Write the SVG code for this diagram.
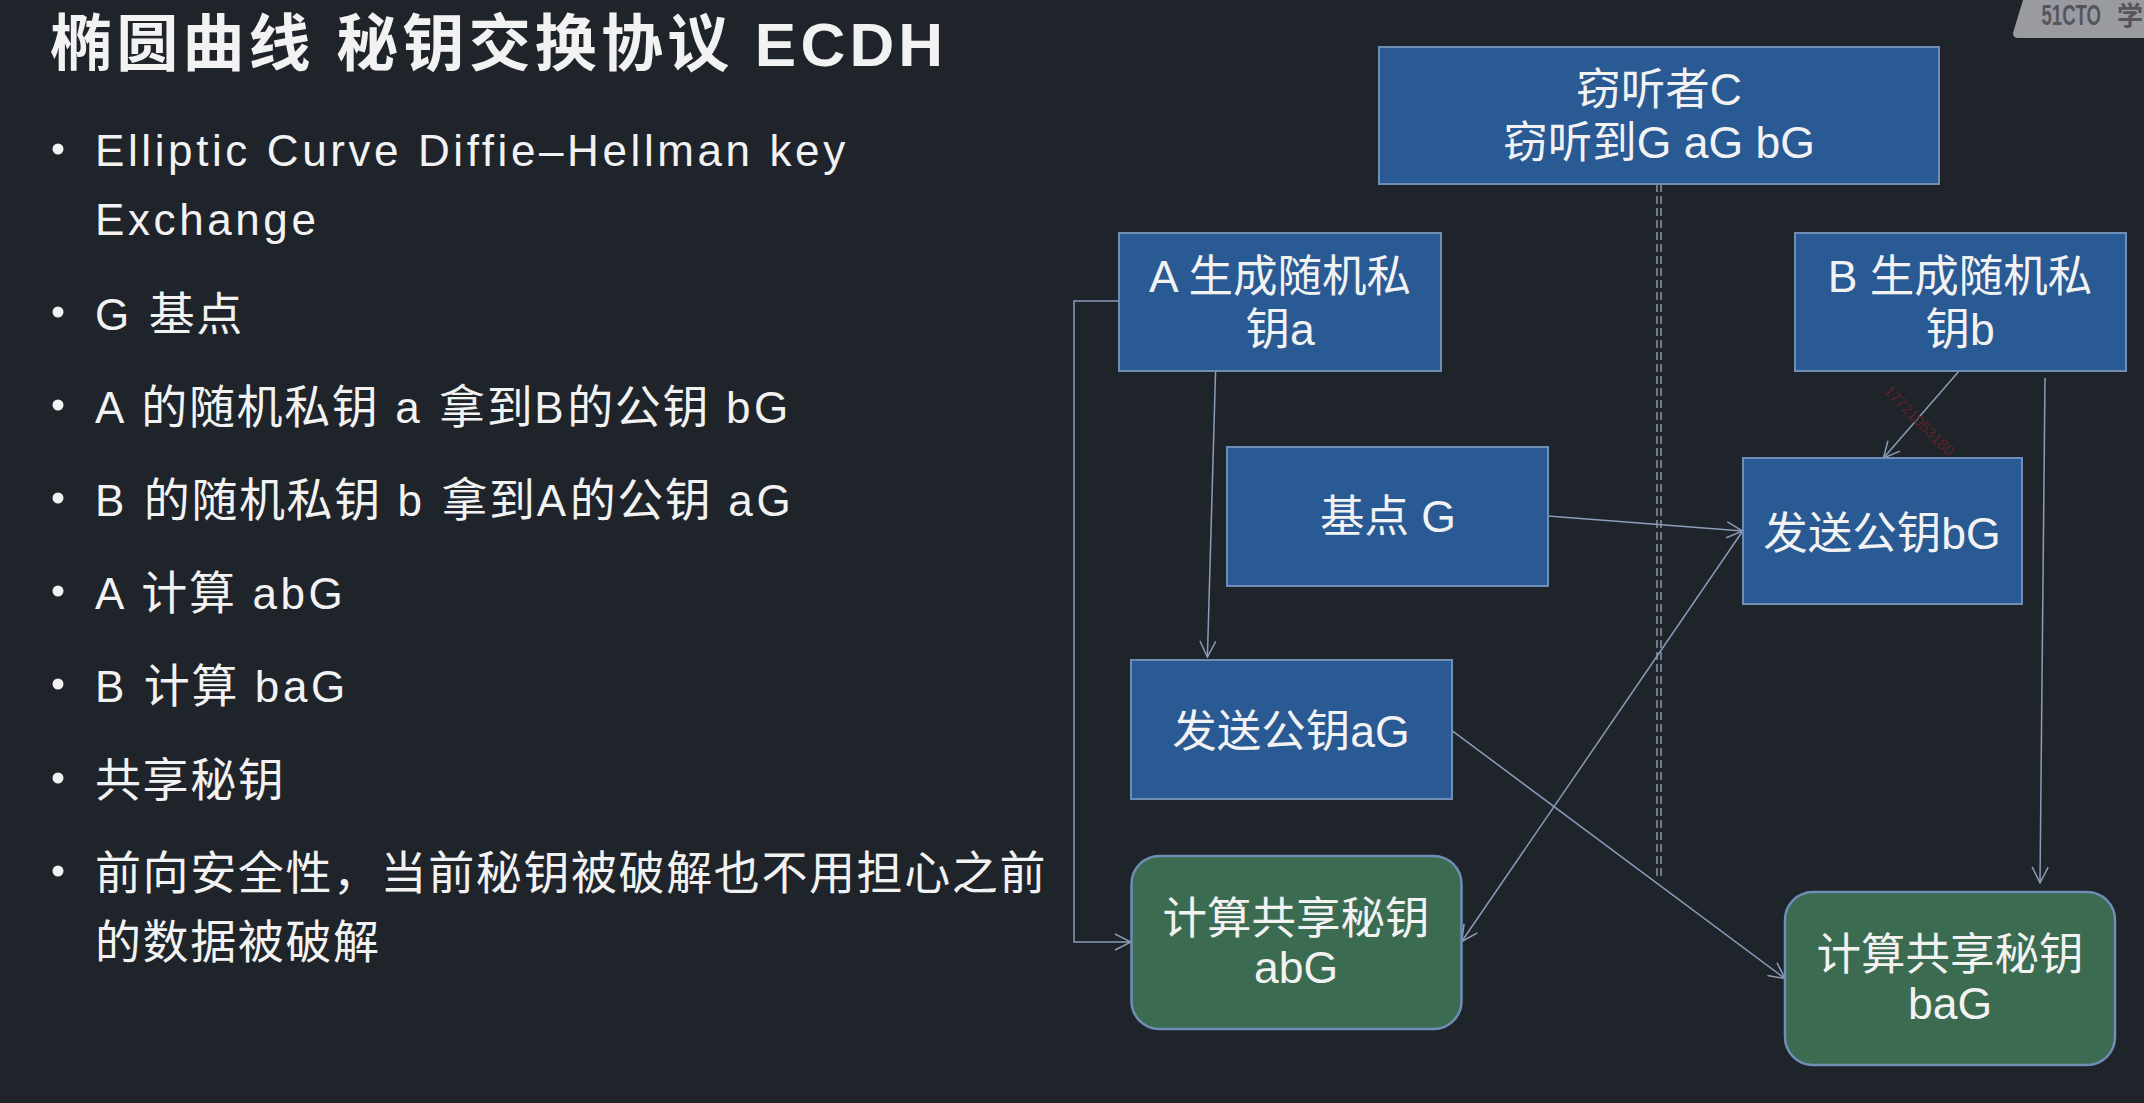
<svg xmlns="http://www.w3.org/2000/svg" width="2144" height="1103" viewBox="0 0 2144 1103">
<defs>
<marker id="arr" viewBox="0 0 18 18" refX="17" refY="9" markerWidth="18" markerHeight="18" markerUnits="userSpaceOnUse" orient="auto"><path d="M1 1L17 9L1 17" fill="none" stroke="#8a9cb8" stroke-width="1.5"/></marker>
</defs>
<style>
text{font-family:"Liberation Sans","Noto Sans CJK SC",sans-serif;fill:#f2f2f2}
.t{font-size:44px;letter-spacing:3.6px}
.k{font-size:46px;letter-spacing:1.6px}
.n{font-size:44.5px;text-anchor:middle}
.box{fill:#295a94;stroke:#6f8db5;stroke-width:2}
.grn{fill:#3b6b51;stroke:#6f8db5;stroke-width:2.5}
.c{fill:none;stroke:#8a9cb8;stroke-width:1.5}
.d{fill:none;stroke:#8a97a8;stroke-width:1.5;stroke-dasharray:8 4}
.b{fill:#f2f2f2}
.w{font-weight:bold;fill:#55565c}
</style>
<rect width="2144" height="1103" fill="#1f242b"/>
<g id="slide-text">
<text x="50" y="66" style="font-size:62px;font-weight:bold;letter-spacing:4.2px">椭圆曲线 秘钥交换协议 ECDH</text>
<circle class="b" cx="58" cy="149" r="5.5"/><text x="95" y="166" class="t">Elliptic Curve Diffie–Hellman key</text>
<text x="95" y="235" class="t">Exchange</text>
<circle class="b" cx="58" cy="312" r="5.5"/><text x="95" y="330" class="t">G <tspan class="k">基点</tspan></text>
<circle class="b" cx="58" cy="405" r="5.5"/><text x="95" y="423" class="t">A <tspan class="k">的随机私钥</tspan> a <tspan class="k">拿到</tspan>B<tspan class="k">的公钥</tspan> bG</text>
<circle class="b" cx="58" cy="498" r="5.5"/><text x="95" y="516" class="t">B <tspan class="k">的随机私钥</tspan> b <tspan class="k">拿到</tspan>A<tspan class="k">的公钥</tspan> aG</text>
<circle class="b" cx="58" cy="591" r="5.5"/><text x="95" y="609" class="t">A <tspan class="k">计算</tspan> abG</text>
<circle class="b" cx="58" cy="684" r="5.5"/><text x="95" y="702" class="t">B <tspan class="k">计算</tspan> baG</text>
<circle class="b" cx="58" cy="778" r="5.5"/><text x="95" y="796" class="t"><tspan class="k">共享秘钥</tspan></text>
<circle class="b" cx="58" cy="871" r="5.5"/><text x="95" y="889" class="t"><tspan class="k">前向安全性，当前秘钥被破解也不用担心之前</tspan></text>
<text x="95" y="958" class="t"><tspan class="k">的数据被破解</tspan></text>
</g>
<g id="connectors">
<path class="d" d="M1657 184V878M1661 184V878"/>
<path class="c" d="M1118 301H1074V942H1131" marker-end="url(#arr)"/>
<path class="c" d="M1215.6 370L1207.4 657" marker-end="url(#arr)"/>
<path class="c" d="M1960 370L1883.5 458" marker-end="url(#arr)"/>
<path class="c" d="M2045 378L2040 883" marker-end="url(#arr)"/>
<path class="c" d="M1548 516L1742.7 531" marker-end="url(#arr)"/>
<path class="c" d="M1452 730.6L1785 978.6" marker-end="url(#arr)"/>
<path class="c" d="M1742.7 531L1461.7 941.5" marker-end="url(#arr)"/>
</g>
<g id="node-c"><rect class="box" x="1379" y="47" width="560" height="137"/><text class="n" x="1659" y="105">窃听者C</text><text class="n" x="1659" y="158">窃听到G aG bG</text></g>
<g id="node-a"><rect class="box" x="1119" y="233" width="322" height="138"/><text class="n" x="1280" y="292">A 生成随机私</text><text class="n" x="1280" y="345">钥a</text></g>
<g id="node-b"><rect class="box" x="1795" y="233" width="331" height="138"/><text class="n" x="1960" y="292">B 生成随机私</text><text class="n" x="1960" y="345">钥b</text></g>
<g id="node-g"><rect class="box" x="1227" y="447" width="321" height="139"/><text class="n" x="1388" y="532">基点 G</text></g>
<g id="node-bg"><rect class="box" x="1743" y="458" width="279" height="146"/><text class="n" x="1882" y="549">发送公钥bG</text></g>
<g id="node-ag"><rect class="box" x="1131" y="660" width="321" height="139"/><text class="n" x="1291" y="747">发送公钥aG</text></g>
<g id="node-abg"><rect class="grn" x="1131.5" y="856" width="330" height="173" rx="28"/><text class="n" x="1296" y="934">计算共享秘钥</text><text class="n" x="1296" y="983">abG</text></g>
<g id="node-bag"><rect class="grn" x="1785" y="892" width="330" height="173" rx="28"/><text class="n" x="1950" y="970">计算共享秘钥</text><text class="n" x="1950" y="1019">baG</text></g>
<g id="watermark">
<path d="M2023 0L2013 33Q2013 38 2018 38H2144V0Z" fill="#9a9ba0"/>
<text class="w" transform="translate(2041.5 25) scale(.62 1)" style="font-size:30px">51CTO</text>
<text class="w" x="2117" y="25" style="font-size:26px">学</text>
</g>
<text x="1883" y="392" transform="rotate(45 1883 392)" style="font-size:15px;fill:#5e2226">17721053180</text>
</svg>
